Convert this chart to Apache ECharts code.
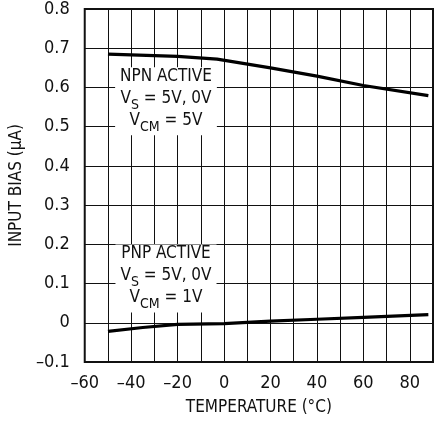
<!DOCTYPE html>
<html>
<head>
<meta charset="utf-8">
<script src="https://cdn.jsdelivr.net/npm/echarts@6/dist/echarts.min.js"></script>
<style>
html,body{margin:0;padding:0;background:#fff;}
#c{width:439px;height:422px;}
</style>
</head>
<body>
<div id="c"></div>
<script>
// Data
const npnTemps = [-50, -20, -3, 20, 40, 60, 88];
const npnBias  = [0.685, 0.679, 0.672, 0.650, 0.629, 0.605, 0.579];
const pnpTemps = [-50, -35, -20, 0, 20, 40, 60, 88];
const pnpBias  = [-0.022, -0.012, -0.004, -0.002, 0.004, 0.009, 0.014, 0.021];
const xTickLabels = ['-60', '-40', '-20', '0', '20', '40', '60', '80'];
const yTickLabels = ['-0.1', '0', '0.1', '0.2', '0.3', '0.4', '0.5', '0.6', '0.7', '0.8'];
const npnNote = ['NPN ACTIVE', 'S', ' = 5V, 0V', 'CM', ' = 5V'];
const pnpNote = ['PNP ACTIVE', 'S', ' = 5V, 0V', 'CM', ' = 1V'];
const npnNoteAt = [-25, 0.565];
const pnpNoteAt = [-25, 0.113];

const FONT = '"Liberation Sans Narrow", "DejaVu Sans Condensed", "Liberation Sans", sans-serif';
const dash = s => String(s).replace('-', '\u2013');

function note(parts) {
  return '{n|' + parts[0] + '}\n{n|V}{s|' + parts[1] + '}{n|' + parts[2] + '}\n{n|V}{s|' + parts[3] + '}{n|' + parts[4] + '}';
}
const rich = {
  n: {fontFamily: FONT, fontSize: 17, lineHeight: 22, color: '#111', verticalAlign: 'top'},
  s: {fontFamily: FONT, fontSize: 14, lineHeight: 14, color: '#111', verticalAlign: 'top', padding: [8, 0, 0, 0]}
};

const chart = echarts.init(document.getElementById('c'), null, {renderer: 'canvas'});
chart.setOption({
  animation: false,
  backgroundColor: '#fff',
  grid: {left: 81, right: 6, top: 9, bottom: 60, show: true, borderColor: '#111', borderWidth: 2, backgroundColor: 'transparent', z: 10},
  xAxis: {
    type: 'value', min: -60, max: 90, interval: 10,
    name: 'TEMPERATURE (\u00B0C)', nameLocation: 'middle', nameGap: 37,
    nameTextStyle: {fontFamily: FONT, fontSize: 17, color: '#111'},
    axisLine: {show: false}, axisTick: {show: false},
    axisLabel: {
      margin: 12, fontFamily: FONT, fontSize: 18, color: '#111',
      formatter: v => { const i = xTickLabels.indexOf(String(v)); return i >= 0 ? dash(xTickLabels[i]) : ''; }
    },
    splitLine: {show: true, lineStyle: {color: '#111', width: 1}}
  },
  yAxis: {
    type: 'value', min: -0.1, max: 0.8, interval: 0.1,
    name: 'INPUT BIAS (\u03BCA)', nameLocation: 'middle', nameGap: 47, nameRotate: 90,
    nameTextStyle: {fontFamily: FONT, fontSize: 17, color: '#111'},
    axisLine: {show: false}, axisTick: {show: false},
    axisLabel: {
      margin: 15, fontFamily: FONT, fontSize: 18, color: '#111',
      formatter: v => { const r = Math.round(v * 10) / 10; const s = r === 0 ? '0' : r.toFixed(1); return yTickLabels.indexOf(s) >= 0 ? dash(s) : ''; }
    },
    splitLine: {show: true, lineStyle: {color: '#111', width: 1}}
  },
  series: [
    {
      type: 'line', data: npnTemps.map((t, i) => [t, npnBias[i]]),
      symbol: 'none', lineStyle: {color: '#000', width: 3.2}, z: 5,
      markPoint: {
        symbol: 'rect', symbolSize: 0, silent: true,
        data: [{coord: npnNoteAt, label: {show: true, position: 'inside', formatter: note(npnNote), rich: rich,
          backgroundColor: '#fff', padding: [1, 5, 1, 5], align: 'center', verticalAlign: 'middle'}}]
      }
    },
    {
      type: 'line', data: pnpTemps.map((t, i) => [t, pnpBias[i]]),
      symbol: 'none', lineStyle: {color: '#000', width: 3.2}, z: 5,
      markPoint: {
        symbol: 'rect', symbolSize: 0, silent: true,
        data: [{coord: pnpNoteAt, label: {show: true, position: 'inside', formatter: note(pnpNote), rich: rich,
          backgroundColor: '#fff', padding: [1, 5, 1, 5], align: 'center', verticalAlign: 'middle'}}]
      }
    }
  ]
});
</script>
</body>
</html>
